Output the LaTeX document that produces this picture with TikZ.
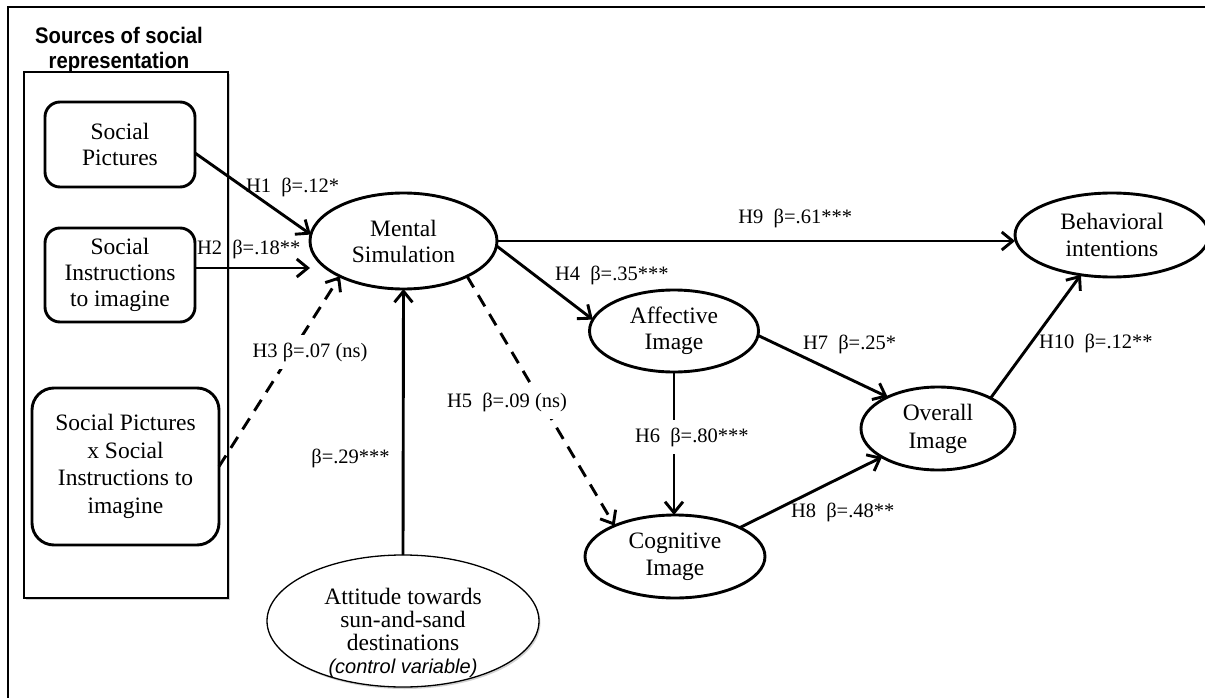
\documentclass[tikz,border=0pt]{standalone}
\usepackage{fontspec}
\setmainfont{Liberation Serif}
\newfontfamily\sansfam{Liberation Sans}
\usetikzlibrary{shapes.geometric,arrows.meta,shadows}

\begin{document}
\begin{tikzpicture}[x=1pt,y=-1pt,
  every node/.style={inner sep=0pt, outer sep=0pt},
  nodetext/.style={font=\fontsize{23.5}{26}\selectfont, align=center},
  oval/.style={nodetext, ellipse, draw, line width=2.9pt},
  rbox/.style={nodetext, rectangle, draw, line width=2.9pt, rounded corners=15pt},
  link/.style={line width=2.9pt, -{Straight Barb[length=11pt,width=18pt]}},
  nslink/.style={link, dash pattern=on 13pt off 9pt},
  coef/.style={font=\fontsize{20.5}{24}\selectfont, inner sep=1pt},
  coefw/.style={coef, fill=white, inner xsep=2pt, inner ysep=8pt},
  softshadow/.style={drop shadow={shadow xshift=1.5pt, shadow yshift=-2pt, opacity=.18, fill=black}}
]
\useasboundingbox (0,0) rectangle (1205,698);
\clip (0,0) rectangle (1205,698);

% outer frame
\draw[line width=2.2pt] (8,7) rectangle (1240,730);

% group of the social representation sources
\node[font=\sansfam\bfseries\fontsize{22.5}{25}\selectfont, align=center] (title) at (119,50)
  {\scalebox{0.9}[1]{Sources of social}\\\scalebox{0.9}[1]{representation}};
\node[draw, line width=1.1pt, fill=white, softshadow, minimum width=204pt, minimum height=526pt] (src) at (126,335) {};

\node[rbox, minimum width=150pt, minimum height=85pt] (sp) at (120,144.5) {Social\\Pictures};
\node[rbox, minimum width=150pt, minimum height=94pt] (si) at (120,275) {Social\\Instructions\\to imagine};
\node[rbox, rounded corners=22pt, minimum width=187pt, minimum height=157pt,
      font=\fontsize{23.5}{27.5}\selectfont] (spx) at (125.5,466.5)
  {Social Pictures\\x Social\\Instructions to\\imagine};

% constructs
\node[oval, minimum width=187pt, minimum height=96pt] (ms) at (403.5,241) {Mental\\Simulation};
\node[oval, minimum width=169pt, minimum height=82pt] (ai) at (674,331) {Affective\\Image};
\node[oval, minimum width=180pt, minimum height=83pt, font=\fontsize{23.5}{27}\selectfont] (ci) at (675,556.5) {Cognitive\\Image};
\node[oval, minimum width=154pt, minimum height=83pt, font=\fontsize{23.5}{28}\selectfont] (oi) at (938,428.5) {Overall\\Image};
\node[oval, minimum width=194pt, minimum height=84pt, font=\fontsize{23.5}{27}\selectfont] (bi) at (1112,235) {Behavioral\\intentions};

% control variable
\node[ellipse, draw, line width=1.3pt, fill=white, softshadow, minimum width=272pt, minimum height=132pt] (att) at (403,621) {};
\node[nodetext, font=\fontsize{23.5}{23}\selectfont] (atttxt) at (403,633)
  {Attitude towards\\sun-and-sand\\destinations\\{\sansfam\itshape\fontsize{20}{22}\selectfont (control variable)}};

% paths
\draw[link] ([yshift=-8.5pt]sp.east) -- (ms.176);
\draw[link] ([yshift=7pt]si.east) -- ([yshift=7pt]si.east -| ms.west);
\draw[nslink] (spx.east) -- (ms.209);
\draw[link] (att.north) -- (ms.south);
\draw[link] (ms.east) -- (ms.east -| bi.west);
\draw[link] (ms.-3) -- (ai.172);
\draw[nslink] (ms.-29) -- (ci.153);
\draw[link] (ai.south) -- (ai.south |- ci.north);
\draw[link] (ai.-3) -- (oi.148);
\draw[link] (ci.24) -- (oi.207);
\draw[link] (oi.30) -- (bi.232);

% coefficients
\node[coef, anchor=west] (h1) at (245,187) {H1\ \ β=.12*};
\node[coef, anchor=west] (h2) at (196,249) {H2\ \ β=.18**};
\node[coefw] (h3) at (310,352) {H3 β=.07 (ns)};
\node[coef] (ctl) at (350.5,458) {β=.29***};
\node[coef, anchor=east] (h9) at (853,218) {H9\ \ β=.61***};
\node[coef, anchor=west] (h4) at (554,275) {H4\ \ β=.35***};
\node[coefw, anchor=west] (h5) at (445,402) {H5\ \ β=.09 (ns)};
\node[coefw, anchor=west] (h6) at (633,437) {H6\ \ β=.80***};
\node[coef, anchor=west] (h7) at (802,344) {H7\ \ β=.25*};
\node[coef, anchor=west] (h8) at (790,512) {H8\ \ β=.48**};
\node[coef, anchor=west] (h10) at (1038,343) {H10\ \ β=.12**};
\end{tikzpicture}
\end{document}
